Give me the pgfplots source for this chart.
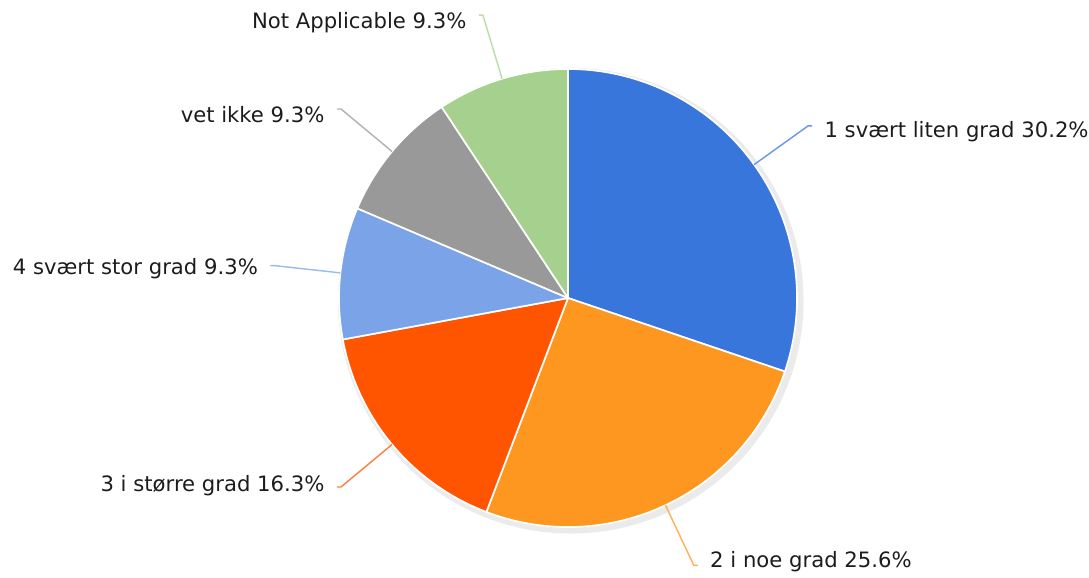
\documentclass[border=0pt]{standalone}
\usepackage{pgfplots}
\pgfplotsset{compat=1.18}
\usepackage{pgfplotstable}
\usepackage{fontspec}
\setmainfont{DejaVu Sans}

\definecolor{c1}{RGB}{56,118,220}
\definecolor{c2}{RGB}{253,151,32}
\definecolor{c3}{RGB}{255,85,0}
\definecolor{c4}{RGB}{122,163,232}
\definecolor{c5}{RGB}{153,153,153}
\definecolor{c6}{RGB}{166,208,142}
\definecolor{txt}{RGB}{28,28,28}

% one row per slice, clockwise from 12 o'clock
\pgfplotstableread[col sep=comma]{
label,value,color
1 svært liten grad,30.2,c1
2 i noe grad,25.6,c2
3 i større grad,16.3,c3
4 svært stor grad,9.3,c4
vet ikke,9.3,c5
Not Applicable,9.3,c6
}\piedata

\def\R{3.3646cm}   % pie radius = 1 axis unit
\def\px{0.004367}  % one reference pixel in axis units

\begin{document}
\begin{tikzpicture}
\begin{axis}[scale only axis,width=16cm,height=8.4775cm,hide axis,clip=false,
  xmin=-2.4803,xmax=2.2751,ymin=-1.2183,ymax=1.3013]
\path (rel axis cs:0,0) rectangle (rel axis cs:1,1);
% soft shadow
\fill[black!18] (axis cs:0.008,-0.008) circle[radius=3.40cm];
\fill[black!8] (axis cs:0.012,-0.012) circle[radius=3.42cm];
\def\cum{0}
\pgfplotsforeachungrouped \i in {0,...,5} {
  \pgfplotstablegetelem{\i}{value}\of\piedata \let\v\pgfplotsretval
  \pgfplotstablegetelem{\i}{color}\of\piedata \let\col\pgfplotsretval
  \pgfplotstablegetelem{\i}{label}\of\piedata \let\lab\pgfplotsretval
  \pgfmathsetmacro\a{90-3.6*\cum}
  \pgfmathsetmacro\b{90-3.6*(\cum+\v)}
  \pgfmathsetmacro\m{(\a+\b)/2}
  \pgfmathsetmacro\ax{cos(\a)}\pgfmathsetmacro\ay{sin(\a)}
  \pgfmathsetmacro\ex{cos(\m)}\pgfmathsetmacro\ey{sin(\m)}
  \pgfmathsetmacro\lx{1.29*cos(\m)}\pgfmathsetmacro\ly{1.29*sin(\m)}
  \pgfmathtruncatemacro\rs{cos(\m)>0}
  \ifnum\rs=1 \def\anc{west}\def\sg{1}\else\def\anc{east}\def\sg{-1}\fi
  \pgfmathsetmacro\kx{\lx+\sg*4*\px}
  \pgfmathsetmacro\tx{\lx+\sg*16*\px}
  \pgfmathsetmacro\ty{\ly-(2+6*sin(\m))*\px}
  \edef\temp{%
    \noexpand\filldraw[fill=\col,draw=white,line width=0.7pt,line join=round]
      (axis cs:0,0) -- (axis cs:\ax,\ay)
      arc[start angle=\a,end angle=\b,radius=\R] -- cycle;
    \noexpand\draw[\col!75!white,line width=0.6pt]
      (axis cs:\ex,\ey) -- (axis cs:\lx,\ly) -- (axis cs:\kx,\ly);
    \noexpand\node[anchor=\anc,inner sep=0pt,text=txt,
      font=\noexpand\fontsize{8.85}{10}\noexpand\selectfont]
      at (axis cs:\tx,\ty) {\lab\space\v\noexpand\%};
  }
  \temp
  \pgfmathsetmacro\cum{\cum+\v}
}
\end{axis}
\end{tikzpicture}
\end{document}
